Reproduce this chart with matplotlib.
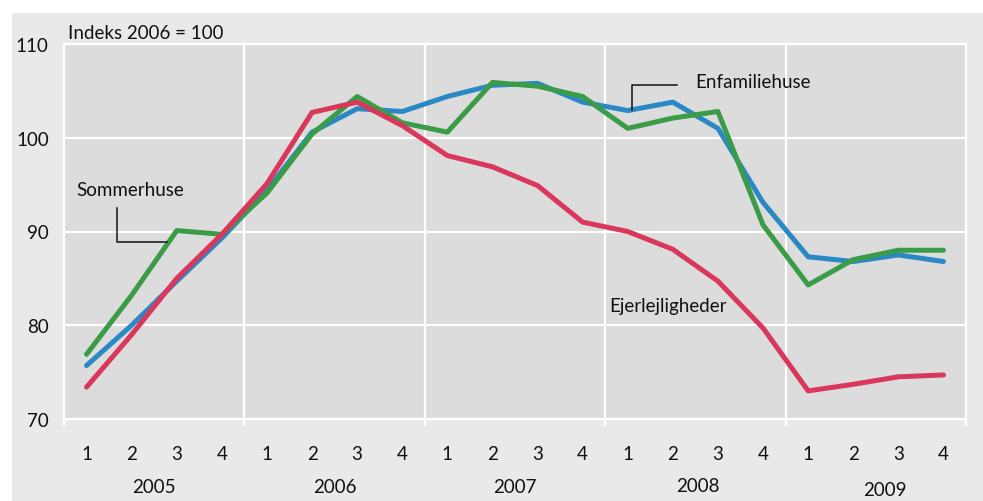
import matplotlib
matplotlib.use("Agg")
import matplotlib.pyplot as plt
from matplotlib.patches import Rectangle
import matplotlib.transforms as mtransforms

plt.rcParams['font.family'] = ['Lato', 'DejaVu Sans']

years = ["2005", "2006", "2007", "2008", "2009"]
quarters = ["1", "2", "3", "4"]

enfamiliehuse = [75.7, 80.0, 84.7, 89.3, 94.4, 100.6, 103.1, 102.8, 104.4, 105.6,
                 105.8, 103.8, 102.9, 103.8, 101.0, 93.1, 87.3, 86.8, 87.5, 86.8]
sommerhuse = [76.9, 83.2, 90.1, 89.7, 94.1, 100.4, 104.4, 101.6, 100.6, 105.9,
              105.5, 104.4, 101.0, 102.1, 102.8, 90.7, 84.3, 87.0, 88.0, 88.0]
ejerlejligheder = [73.4, 79.0, 85.0, 89.7, 95.1, 102.7, 103.8, 101.3, 98.1, 96.9,
                   94.9, 91.0, 90.0, 88.1, 84.7, 79.7, 73.0, 73.7, 74.5, 74.7]

blue = "#2a88c5"
green = "#3a9c46"
red = "#d9375b"

fig = plt.figure(figsize=(9.83, 5.02), dpi=100)
fig.patch.set_facecolor("white")
fig.add_artist(Rectangle((12 / 983, 0), 1 - 12 / 983, 1 - 14 / 502,
                         transform=fig.transFigure, facecolor="#e9e9e9",
                         edgecolor="none", zorder=0))

ax = fig.add_axes([64 / 983, 1 - 420 / 502, (966 - 64) / 983, (420 - 45) / 502])
ax.set_facecolor("#dcdcdc")
for s in ax.spines.values():
    s.set_visible(False)

n = len(years) * len(quarters)
x = [i + 0.5 for i in range(n)]

ax.set_xlim(0, n)
ax.set_ylim(70, 110)

# grid
for v in [70, 80, 90, 100, 110]:
    ax.axhline(v, color="white", lw=1.6, zorder=1, clip_on=False)
for b in range(0, n + 1, 4):
    ax.axvline(b, color="white", lw=1.6, zorder=1, clip_on=False)

lw = 3.6
ax.plot(x, enfamiliehuse, color=blue, lw=lw, zorder=3, solid_capstyle="round", solid_joinstyle="round")
ax.plot(x, sommerhuse, color=green, lw=lw, zorder=4, solid_capstyle="round", solid_joinstyle="round")
ax.plot(x, ejerlejligheder, color=red, lw=lw, zorder=5, solid_capstyle="round", solid_joinstyle="round")

# ticks
ax.set_yticks([70, 80, 90, 100, 110])
ax.set_yticklabels(["70", "80", "90", "100", "110"])
ax.tick_params(axis="y", length=0, pad=11, labelsize=13.5, colors="#111111")

ax.set_xticks(range(0, n + 1, 4))
ax.set_xticklabels([])
ax.tick_params(axis="x", which="major", length=5, width=1.6, color="white")
ax.set_xticks(x, minor=True)
ax.set_xticklabels(quarters * len(years), minor=True)
ax.tick_params(axis="x", which="minor", length=0, pad=19, labelsize=13.5, colors="#111111")

trans = mtransforms.blended_transform_factory(ax.transData, ax.transAxes)
year_pos = [2.0, 6.0, 10.0, 14.05, 18.2]
year_y = [-0.181, -0.181, -0.181, -0.176, -0.187]
for yr, xp, yp in zip(years, year_pos, year_y):
    ax.text(xp, yp, yr, transform=trans, ha="center", va="center",
            fontsize=13.5, color="#111111", clip_on=False)

# annotations
ax.text(0.08, 110.64, "Indeks 2006 = 100", ha="left", va="baseline",
        fontsize=13.5, color="#111111", clip_on=False)

ax.text(14.0, 105.4, "Enfamiliehuse", ha="left", va="baseline", fontsize=13.5, color="#111111", zorder=6)
ax.plot([12.6, 12.6, 13.6], [103.0, 105.6, 105.6], color="#111111", lw=1.1, zorder=6)

ax.text(0.27, 93.9, "Sommerhuse", ha="left", va="baseline", fontsize=13.5, color="#111111", zorder=6)
ax.plot([1.18, 1.18, 2.28], [92.55, 88.83, 88.83], color="#111111", lw=1.1, zorder=6)

ax.text(12.08, 81.5, "Ejerlejligheder", ha="left", va="baseline", fontsize=13.5, color="#111111", zorder=6)

fig.savefig("out.png", dpi=100, facecolor=fig.get_facecolor())
